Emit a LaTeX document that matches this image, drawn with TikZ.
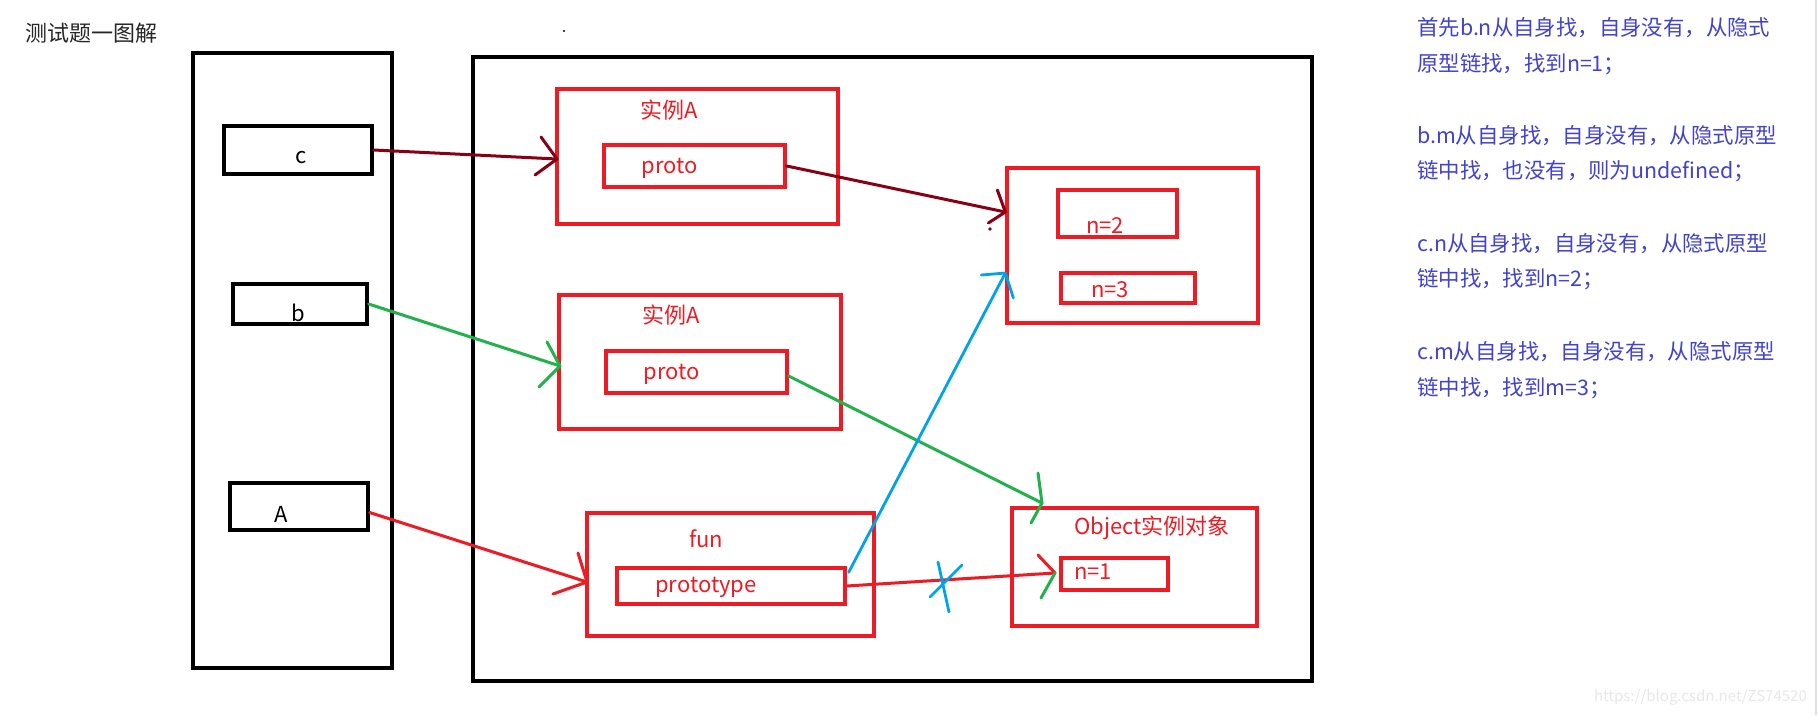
\documentclass[tikz,border=0pt]{standalone}
\usepackage{fontspec}
\setmainfont{Noto Sans CJK SC}
\usetikzlibrary{fit}
\definecolor{pRed}{RGB}{237,28,36}
\definecolor{pDark}{RGB}{136,0,21}
\definecolor{pGreen}{RGB}{34,177,76}
\definecolor{pBlue}{RGB}{0,162,232}
\definecolor{noteBlue}{RGB}{66,66,204}
\begin{document}
\begin{tikzpicture}[x=1pt,y=-1pt,
  blackbox/.style={draw=black,line width=3.3pt,inner sep=0pt},
  redbox/.style={draw=pRed,line width=3.3pt,inner sep=0pt},
  blacklbl/.style={font=\fontsize{22}{26}\selectfont,text=black,anchor=base,inner sep=0pt},
  redlbl/.style={font=\fontsize{22}{26}\selectfont,text=pRed,anchor=base,inner sep=0pt},
  note/.style={font=\fontsize{21.4}{25}\selectfont,text=noteBlue,anchor=base west,inner sep=0pt},
  link/.style={line width=3pt,line cap=round,line join=round},
]
% canvas
\fill[white] (0,0) rectangle (1818,715);
\useasboundingbox (0,0) rectangle (1818,715);
\draw[black!12,line width=1.5pt] (1816,0) -- (1816,715);

% title
\node[font=\fontsize{22}{26}\selectfont,text=black!85,anchor=base west,inner sep=0pt] (title) at (25,41) {测试题一图解};
\fill[black] (564,31) circle (1.2);

% stack and heap frames
\node[blackbox,fit={(193,53) (392,668)}] (stack) {};
\node[blackbox,fit={(473,57) (1312,681)}] (heap) {};

% variables on the stack
\node[blackbox,fit={(224,126) (372,174)}] (cbox) {};
\node[blackbox,fit={(233,284) (367,324)}] (bbox) {};
\node[blackbox,fit={(230,483) (368,530)}] (abox) {};
\node[blacklbl] (cl) at (301,163) {c};
\node[blacklbl] (bl) at (298,321) {b};
\node[blacklbl] (al) at (281,522) {A};

% objects on the heap
\node[redbox,fit={(557,89) (838,224)}] (instA) {};
\node[redbox,fit={(604,145) (785,187)}] (protoA) {};
\node[redbox,fit={(559,295) (841,429)}] (instB) {};
\node[redbox,fit={(606,351) (787,393)}] (protoB) {};
\node[redbox,fit={(587,513) (874,636)}] (funbox) {};
\node[redbox,fit={(617,568) (845,604)}] (ptype) {};
\node[redbox,fit={(1007,168) (1258,323)}] (nbox) {};
\node[redbox,fit={(1058,190) (1177,237)}] (n2) {};
\node[redbox,fit={(1061,273) (1195,303)}] (n3) {};
\node[redbox,fit={(1012,508) (1257,626)}] (objbox) {};
\node[redbox,fit={(1061,558) (1168,590)}] (n1) {};

\node[redlbl] (instAl) at (669,118) {实例A};
\node[redlbl] (protoAl) at (670,173) {proto};
\node[redlbl] (instBl) at (671,323) {实例A};
\node[redlbl] (protoBl) at (672,379) {proto};
\node[redlbl] (funl) at (706,547) {fun};
\node[redlbl] (ptypel) at (706,592) {prototype};
\node[redlbl] (n2l) at (1105,233) {n=2};
\node[redlbl] (n3l) at (1110,297) {n=3};
\node[redlbl] (objl) at (1152,534) {Object实例对象};
\node[redlbl] (n1l) at (1093,579) {n=1};

% arrow end points
\coordinate (cTip) at (557,159);
\coordinate (bTip) at (560,366);
\coordinate (aTip) at (587,582);
\coordinate (dTip) at (nbox.west |- 0,212);
\coordinate (gTip) at (1042,503);
\coordinate (rTip) at (1055,573);
\coordinate (uTip) at (nbox.west |- 0,273);

% c -> instance A
\draw[link,pDark] (cbox.east) -- (cTip);
\draw[link,pDark] (cTip) ++(-16,-22) -- (cTip) -- ++(-22,16);
% b -> instance A
\draw[link,pGreen] (bbox.east) -- (bTip);
\draw[link,pGreen] (bTip) ++(-13,-24) -- (bTip) -- ++(-21,21);
% A -> fun
\draw[link,pRed] ([yshift=-6pt]abox.east) -- (aTip);
\draw[link,pRed] (aTip) ++(-9,-29) -- (aTip) -- ++(-34,12);
% proto -> prototype object of A
\draw[link,pDark] (protoA.east) -- (dTip);
\draw[link,pDark] (dTip) ++(-8,-22) -- (dTip) -- ++(-17,11);
\fill[pDark] (990,229) circle (1.8);
% proto -> Object instance
\draw[link,pGreen] ([yshift=-4pt]protoB.east) -- (gTip);
\draw[link,pGreen] (gTip) ++(-4,-30) -- (gTip) -- ++(-11,20);
% prototype -> n=1 (crossed out)
\draw[link,pRed] (ptype.east) -- (rTip);
\draw[link,pRed] (rTip) ++(-17,-18) -- (rTip);
\draw[link,pGreen] (rTip) -- ++(-14,25);
% prototype -> new prototype object
\draw[link,pBlue,line width=2.8pt] ([xshift=2pt,yshift=-6pt]ptype.north east) -- (uTip);
\draw[link,pBlue,line width=2.8pt] (uTip) ++(-24,2) -- (uTip) -- ++(8,25);
\draw[link,pBlue,line width=2.8pt] (938,562) -- (949,612);
\draw[link,pBlue,line width=2.8pt] (930,597) -- (962,565);

% explanation
\node[note] (t1) at (1417,35) {首先b.n从自身找，自身没有，从隐式};
\node[note] (t2) at (1417,71) {原型链找，找到n=1；};
\node[note] (t3) at (1417,143) {b.m从自身找，自身没有，从隐式原型};
\node[note] (t4) at (1417,178) {链中找，也没有，则为undefined；};
\node[note] (t5) at (1417,251) {c.n从自身找，自身没有，从隐式原型};
\node[note] (t6) at (1417,286) {链中找，找到n=2；};
\node[note] (t7) at (1417,359) {c.m从自身找，自身没有，从隐式原型};
\node[note] (t8) at (1417,395) {链中找，找到m=3；};

\node[font=\fontsize{15}{18}\selectfont,text=black!9,anchor=base east,inner sep=0pt] (mark) at (1807,701) {https://blog.csdn.net/ZS74520};
\end{tikzpicture}
\end{document}
